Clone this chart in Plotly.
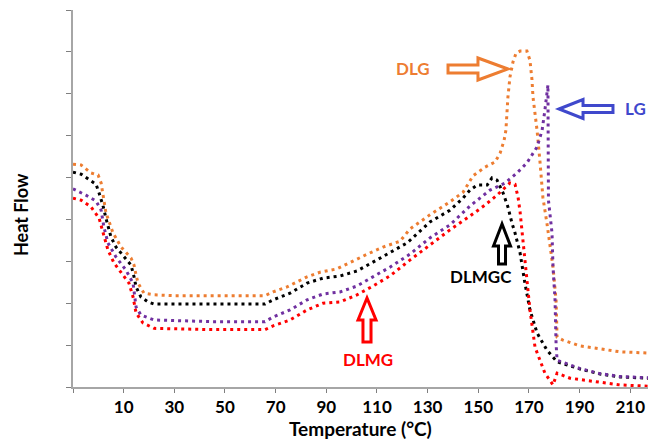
import plotly.graph_objects as go

# DSC thermograms (heat flow vs temperature) for four formulations
x_dlg = [-10, -6.8, -2.9, -0.1, 1.1, 1.8, 3.0, 5.8, 9.0, 12.9, 14.1, 14.9, 15.7, 18.0, 22.0, 30, 45, 65.8,
         69.0, 74.5, 82.4, 87.5, 94.2, 99.4, 106.1, 112.4, 119.1, 123.0, 130.9, 138.8, 144.0, 147.9,
         152.7, 156.6, 158.6, 160.2, 160.9, 161.7, 162.5, 163.7, 164.9, 166.5, 169.2, 170.4, 171.2,
         171.6, 173.2, 174.4, 175.5, 177.1, 179.5, 180.7, 181.1, 183.4, 190.2, 198.1, 205.9, 217]
y_dlg = [5.32, 5.30, 5.11, 5.06, 4.87, 4.63, 4.16, 3.68, 3.34, 3.08, 2.91, 2.67, 2.48, 2.24, 2.20, 2.18, 2.18, 2.18,
         2.27, 2.39, 2.63, 2.74, 2.82, 2.98, 3.17, 3.34, 3.48, 3.77, 4.11, 4.42, 4.65, 5.04,
         5.25, 5.37, 5.58, 5.89, 6.13, 6.92, 7.40, 7.76, 7.97, 8.02, 8.02, 7.80, 7.33,
         6.92, 6.13, 5.35, 4.53, 3.91, 2.86, 2.08, 1.19, 1.12, 0.98, 0.91, 0.84, 0.81]

x_dlmgc = [-10, -6.8, -2.9, -0.9, 0.3, 1.8, 3.0, 5.0, 7.0, 10.1, 12.9, 14.1, 14.9, 16.8, 19.6, 22.0, 45, 65.8,
           69.0, 75.7, 82.4, 88.7, 95.4, 102.1, 108.4, 115.1, 121.9, 130.9, 138.8, 144.0, 146.7, 149.5,
           153.5, 155.4, 157.4, 159.8, 161.7, 163.3, 164.5, 166.5, 168.4, 170.4, 173.2, 177.1, 181.1,
           190.2, 198.1, 205.9, 217]
y_dlmgc = [5.13, 5.08, 4.92, 4.84, 4.63, 4.34, 4.03, 3.58, 3.34, 3.10, 2.91, 2.63, 2.39, 2.15, 2.03, 1.98, 1.98, 1.98,
           2.08, 2.24, 2.48, 2.60, 2.65, 2.77, 2.98, 3.20, 3.44, 3.94, 4.22, 4.51, 4.70, 4.82,
           4.82, 4.99, 4.94, 4.63, 4.30, 3.91, 3.68, 3.20, 2.48, 1.84, 1.29, 0.88, 0.60,
           0.43, 0.31, 0.24, 0.21]

x_lg = [-10, -4.9, -0.9, 1.1, 2.2, 3.8, 7.0, 10.9, 13.7, 14.1, 14.9, 16.8, 22.0, 45, 65.8,
        69.0, 75.7, 82.4, 88.7, 95.4, 102.1, 108.4, 115.1, 123.0, 130.9, 138.8, 146.7, 154.6,
        160.6, 165.3, 169.2, 173.2, 175.2, 176.3, 177.1, 177.5, 177.7, 179.1, 179.5, 180.3, 180.7,
        181.1, 190.2, 198.1, 205.9, 217]
y_lg = [4.73, 4.58, 4.44, 4.22, 3.82, 3.44, 3.10, 2.79, 2.48, 2.24, 1.91, 1.72, 1.60, 1.56, 1.56,
        1.67, 1.84, 2.08, 2.22, 2.27, 2.41, 2.63, 2.86, 3.17, 3.56, 3.87, 4.32, 4.70,
        4.87, 5.11, 5.35, 5.73, 6.13, 6.61, 7.04, 7.21, 4.46, 3.68, 2.86, 2.08, 1.05,
        0.64, 0.44, 0.32, 0.25, 0.22]

x_dlmg = [-10, -6.8, -2.9, 0.3, 1.8, 3.8, 6.2, 9.7, 12.1, 13.7, 14.9, 17.6, 20.0, 22.0, 45, 65.8,
          69.0, 75.7, 82.4, 88.7, 95.4, 102.1, 108.4, 115.1, 123.0, 130.9, 138.8, 146.7, 152.6,
          157.4, 162.5, 164.5, 165.7, 166.5, 167.7, 169.2, 170.4, 172.4, 176.3, 179.5, 181.1,
          186.2, 198.1, 205.9, 217]
y_dlmg = [4.51, 4.46, 4.30, 4.03, 3.70, 3.27, 2.96, 2.67, 2.48, 2.15, 1.77, 1.53, 1.46, 1.40, 1.37, 1.37,
          1.46, 1.60, 1.84, 2.00, 2.03, 2.20, 2.41, 2.65, 3.03, 3.39, 3.75, 4.08, 4.34,
          4.58, 4.87, 4.84, 4.53, 4.18, 3.51, 2.63, 1.84, 0.95, 0.33, 0.05, 0.33,
          0.21, 0.12, 0.05, 0.02]

tick_vals = [-10, 10, 30, 50, 70, 90, 110, 130, 150, 170, 190, 210]
tick_text = ["", "10", "30", "50", "70", "90", "110", "130", "150", "170", "190", "210"]

ORANGE = "#ED7D31"
BLACK = "#000000"
PURPLE = "#7030A0"
RED = "#FF0000"
BLUE = "#3F48CC"

FONT = "Lato"

series = [
    ("DLG", x_dlg, y_dlg, ORANGE),
    ("DLMGC", x_dlmgc, y_dlmgc, BLACK),
    ("LG", x_lg, y_lg, PURPLE),
    ("DLMG", x_dlmg, y_dlmg, RED),
]

fig = go.Figure()
for name, xs, ys, col in series:
    fig.add_trace(go.Scatter(x=xs, y=ys, mode="lines", name=name,
                             line=dict(color=col, width=3, dash="3px,4px"),
                             hoverinfo="skip"))

# plot area geometry in pixels (used to place the hollow callout arrows and labels)
W, H = 648, 440
ML, MR, MT, MB = 73, 0, 10, 53
PW, PH = W - ML - MR, H - MT - MB


def to_paper(px, py):
    return (px - ML) / PW, (H - MB - py) / PH


def hollow_arrow(tip, direction, head_len, head_w, shaft_len, shaft_w):
    """Outline arrow path; tip in pixels, direction one of right/left/up."""
    tx, ty = tip
    hw, sw = head_w / 2, shaft_w / 2
    if direction == "right":
        pts = [(tx, ty), (tx - head_len, ty - hw), (tx - head_len, ty - sw),
               (tx - head_len - shaft_len, ty - sw), (tx - head_len - shaft_len, ty + sw),
               (tx - head_len, ty + sw), (tx - head_len, ty + hw)]
    elif direction == "left":
        pts = [(tx, ty), (tx + head_len, ty - hw), (tx + head_len, ty - sw),
               (tx + head_len + shaft_len, ty - sw), (tx + head_len + shaft_len, ty + sw),
               (tx + head_len, ty + sw), (tx + head_len, ty + hw)]
    else:  # up
        pts = [(tx, ty), (tx - hw, ty + head_len), (tx - sw, ty + head_len),
               (tx - sw, ty + head_len + shaft_len), (tx + sw, ty + head_len + shaft_len),
               (tx + sw, ty + head_len), (tx + hw, ty + head_len)]
    p = [to_paper(*q) for q in pts]
    return "M " + " L ".join(f"{a:.4f},{b:.4f}" for a, b in p) + " Z"


arrows = [
    ((508, 69), "right", 30, 22, 30, 8, ORANGE),
    ((559, 109), "left", 24, 19, 30, 7, BLUE),
    ((502, 224), "up", 22, 17, 18, 7, BLACK),
    ((367, 298), "up", 22, 18, 22, 8, RED),
]
for tip, d, hl, hw, sl, sw, col in arrows:
    fig.add_shape(type="path", xref="paper", yref="paper",
                  path=hollow_arrow(tip, d, hl, hw, sl, sw),
                  line=dict(color=col, width=3), fillcolor="rgba(0,0,0,0)")

labels = [
    ("DLG", (413, 68), ORANGE, 17),
    ("LG", (635, 109), BLUE, 17),
    ("DLMGC", (481, 276), BLACK, 17),
    ("DLMG", (368, 359), RED, 17),
]
for txt, (px, py), col, fs in labels:
    ax_, ay_ = to_paper(px, py)
    fig.add_annotation(x=ax_, y=ay_, xref="paper", yref="paper", text=txt, showarrow=False,
                       xanchor="center", yanchor="middle",
                       font=dict(family=FONT, size=fs, color=col, weight="bold"))

# axis titles
tx_, ty_ = to_paper(360, 428)
fig.add_annotation(x=tx_, y=ty_, xref="paper", yref="paper", text="Temperature (°C)",
                   showarrow=False, xanchor="center", yanchor="middle",
                   font=dict(family=FONT, size=19, color="#000000", weight="bold"))
hx_, hy_ = to_paper(21, 215)
fig.add_annotation(x=hx_, y=hy_, xref="paper", yref="paper", text="Heat Flow",
                   showarrow=False, xanchor="center", yanchor="middle", textangle=-90,
                   font=dict(family=FONT, size=18, color="#000000", weight="bold"))

fig.update_layout(
    width=W, height=H,
    margin=dict(l=ML, r=MR, t=MT, b=MB, pad=0),
    paper_bgcolor="white", plot_bgcolor="white",
    showlegend=False,
    font=dict(family=FONT, color="#000000"),
)

fig.update_xaxes(
    range=[-10, 217], tickmode="array", tickvals=tick_vals, ticktext=tick_text,
    showgrid=False, zeroline=False, showline=True, linecolor="#A6A6A6", linewidth=2,
    ticks="outside", ticklen=4, tickcolor="#7F7F7F", tickwidth=1,
    tickfont=dict(family=FONT, size=17, weight="bold"),
)
fig.update_yaxes(
    range=[0, 9], dtick=1, showticklabels=False,
    showgrid=False, zeroline=False, showline=True, linecolor="#A6A6A6", linewidth=2,
    ticks="outside", ticklen=5, tickcolor="#7F7F7F", tickwidth=1,
)

fig.write_html("out.html")
